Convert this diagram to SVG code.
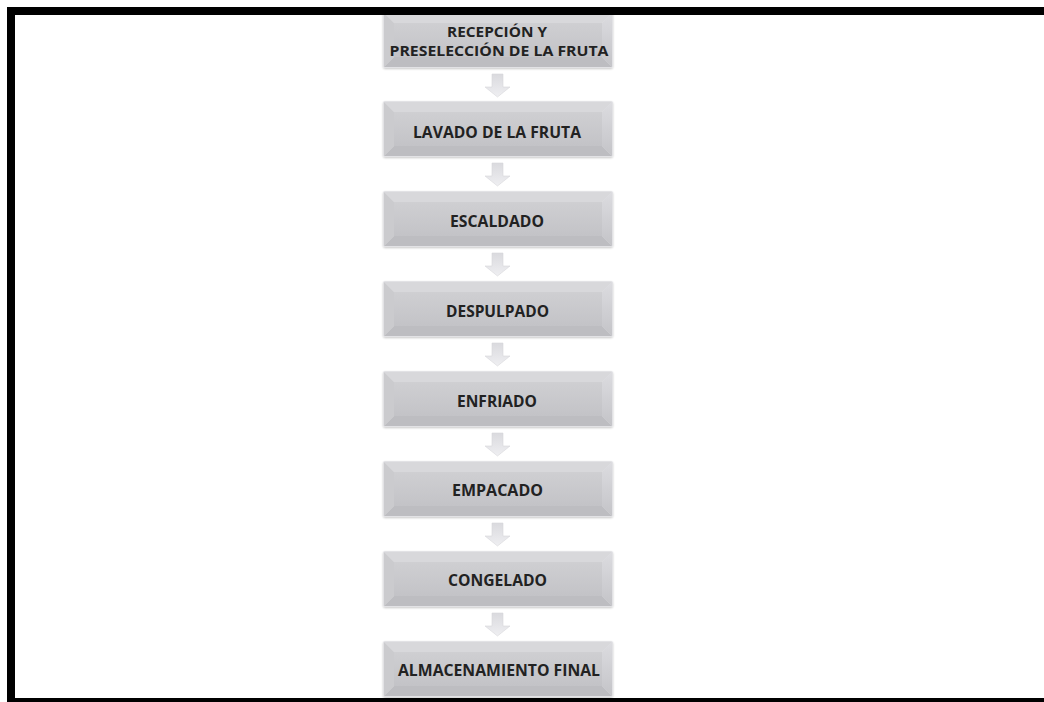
<svg xmlns="http://www.w3.org/2000/svg" xmlns:xlink="http://www.w3.org/1999/xlink" width="1044" height="702" viewBox="0 0 1044 702">
<style>
.lbl{font-family:"Open Sans","Liberation Sans",sans-serif;font-weight:bold;font-size:16.5px;fill:#222;text-anchor:middle;dominant-baseline:central}
.sm{font-size:14.5px}
.frame{fill:#000}
</style>
<defs>
<linearGradient id="face" x1="0" y1="0" x2="0" y2="1">
<stop offset="0" stop-color="#cfcfd2"/>
<stop offset="1" stop-color="#c3c3c7"/>
</linearGradient>
<linearGradient id="rgt" x1="0" y1="0" x2="0" y2="1">
<stop offset="0" stop-color="#dcdce0"/>
<stop offset="1" stop-color="#c4c4c8"/>
</linearGradient>
<linearGradient id="arr" x1="0" y1="0" x2="0" y2="1">
<stop offset="0" stop-color="#dadade"/>
<stop offset="1" stop-color="#efeff2"/>
</linearGradient>
<filter id="sh" x="-5%" y="-10%" width="110%" height="130%">
<feGaussianBlur in="SourceAlpha" stdDeviation="1.2"/>
<feOffset dx="0" dy="1" result="b"/>
<feComponentTransfer><feFuncA type="linear" slope="0.22"/></feComponentTransfer>
<feMerge><feMergeNode/><feMergeNode in="SourceGraphic"/></feMerge>
</filter>
<symbol id="box" overflow="visible">
<g filter="url(#sh)">
<rect x="0" y="0" width="230" height="56" rx="2" fill="#e2e2e5"/>
<polygon points="1,1 229,1 219,11 11,11" fill="#d8d8db"/>
<polygon points="1,1 11,11 11,45 1,55" fill="#cbcbce"/>
<polygon points="229,1 229,55 219,45 219,11" fill="url(#rgt)"/>
<polygon points="1,55 11,45 219,45 229,55" fill="#bdbdc1"/>
<rect x="11" y="11" width="208" height="34" fill="url(#face)"/>
</g>
</symbol>
<path id="arrow" d="M-5.5,0 H5.5 V13 H12.5 L0,23 L-12.5,13 H-5.5 Z" fill="url(#arr)" stroke="#d6d6da" stroke-width="0.6"/>
</defs>
<rect width="1044" height="702" fill="#fff"/>
<g id="connectors">
<use xlink:href="#arrow" x="497.5" y="74"/>
<use xlink:href="#arrow" x="497.5" y="163"/>
<use xlink:href="#arrow" x="497.5" y="253"/>
<use xlink:href="#arrow" x="497.5" y="343"/>
<use xlink:href="#arrow" x="497.5" y="433"/>
<use xlink:href="#arrow" x="497.5" y="523"/>
<use xlink:href="#arrow" x="497.5" y="613"/>
</g>
<g id="n1"><use xlink:href="#box" x="383" y="12"/>
<text class="lbl sm" x="497" y="31.5" textLength="100" lengthAdjust="spacingAndGlyphs">RECEPCIÓN Y</text>
<text class="lbl sm" x="499" y="50.5" textLength="219" lengthAdjust="spacingAndGlyphs">PRESELECCIÓN DE LA FRUTA</text></g>
<g id="n2"><use xlink:href="#box" x="383" y="101"/>
<text class="lbl" x="497" y="131" textLength="168" lengthAdjust="spacingAndGlyphs">LAVADO DE LA FRUTA</text></g>
<g id="n3"><use xlink:href="#box" x="383" y="191"/>
<text class="lbl" x="497" y="220" textLength="94" lengthAdjust="spacingAndGlyphs">ESCALDADO</text></g>
<g id="n4"><use xlink:href="#box" x="383" y="281"/>
<text class="lbl" x="497.5" y="310" textLength="103" lengthAdjust="spacingAndGlyphs">DESPULPADO</text></g>
<g id="n5"><use xlink:href="#box" x="383" y="371"/>
<text class="lbl" x="497" y="400" textLength="80" lengthAdjust="spacingAndGlyphs">ENFRIADO</text></g>
<g id="n6"><use xlink:href="#box" x="383" y="461"/>
<text class="lbl" x="497.5" y="489" textLength="91" lengthAdjust="spacingAndGlyphs">EMPACADO</text></g>
<g id="n7"><use xlink:href="#box" x="383" y="551"/>
<text class="lbl" x="497.5" y="579" textLength="99" lengthAdjust="spacingAndGlyphs">CONGELADO</text></g>
<g id="n8"><use xlink:href="#box" x="383" y="641"/>
<text class="lbl" x="499" y="669" textLength="202" lengthAdjust="spacingAndGlyphs">ALMACENAMIENTO FINAL</text></g>
<g id="frame">
<rect class="frame" x="7" y="7" width="1037" height="8"/>
<rect class="frame" x="7" y="7" width="8" height="695"/>
<rect class="frame" x="7" y="698" width="1037" height="4"/>
</g>
</svg>
